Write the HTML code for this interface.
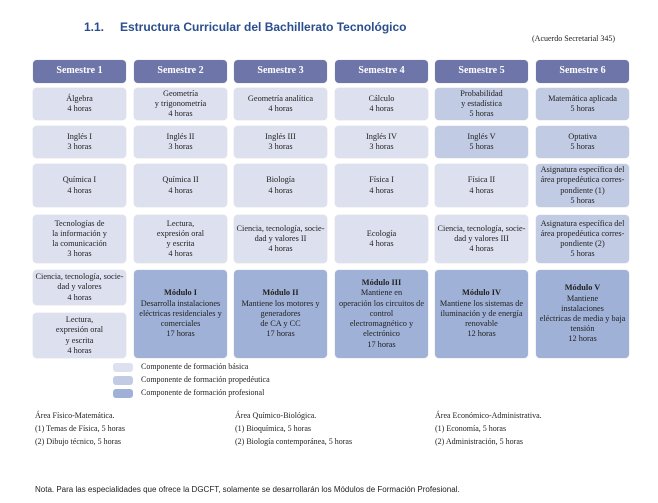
<!DOCTYPE html>
<html><head><meta charset="utf-8"><style>
body{margin:0;width:658px;height:503px;background:#fff;position:relative;overflow:hidden;font-family:"Liberation Serif",serif;color:#222}
.a{position:absolute}
.c{position:absolute;width:93px;border-radius:4px;display:flex;align-items:center;justify-content:center;text-align:center;font-size:8.3px;line-height:10.2px;box-shadow:0 0 1px #bbb}
.h{background:#6e75a8;color:#fff;font-weight:bold;font-size:10px;height:23px;top:60px}
.b{background:#dde1ef}.p{background:#c1cbe3}.f{background:#9fb1d6}
.t{font-size:8px;position:absolute;white-space:nowrap}
.sw{position:absolute;left:113px;width:20px;height:9px;border-radius:3px}
</style></head><body>
<div class="a" style="left:84px;top:20px;font:bold 12px 'Liberation Sans',sans-serif;color:#2a4e8e">1.1.</div>
<div class="a" style="left:120px;top:20px;font:bold 12px 'Liberation Sans',sans-serif;color:#2a4e8e">Estructura Curricular del Bachillerato Tecnológico</div>
<div class="t" style="left:532px;top:34px">(Acuerdo Secretarial 345)</div>

<div class="c h" style="left:33px">Semestre 1</div>
<div class="c h" style="left:134px">Semestre 2</div>
<div class="c h" style="left:234px">Semestre 3</div>
<div class="c h" style="left:335px">Semestre 4</div>
<div class="c h" style="left:435px">Semestre 5</div>
<div class="c h" style="left:536px">Semestre 6</div>

<div class="c b" style="left:33px;top:88px;height:32px">Álgebra<br>4 horas</div>
<div class="c b" style="left:134px;top:88px;height:32px">Geometría<br>y trigonometría<br>4 horas</div>
<div class="c b" style="left:234px;top:88px;height:32px">Geometría analítica<br>4 horas</div>
<div class="c b" style="left:335px;top:88px;height:32px">Cálculo<br>4 horas</div>
<div class="c p" style="left:435px;top:88px;height:32px">Probabilidad<br>y estadística<br>5 horas</div>
<div class="c p" style="left:536px;top:88px;height:32px">Matemática aplicada<br>5 horas</div>

<div class="c b" style="left:33px;top:126px;height:32px">Inglés I<br>3 horas</div>
<div class="c b" style="left:134px;top:126px;height:32px">Inglés II<br>3 horas</div>
<div class="c b" style="left:234px;top:126px;height:32px">Inglés III<br>3 horas</div>
<div class="c b" style="left:335px;top:126px;height:32px">Inglés IV<br>3 horas</div>
<div class="c p" style="left:435px;top:126px;height:32px">Inglés V<br>5 horas</div>
<div class="c p" style="left:536px;top:126px;height:32px">Optativa<br>5 horas</div>

<div class="c b" style="left:33px;top:164px;height:43px">Química I<br>4 horas</div>
<div class="c b" style="left:134px;top:164px;height:43px">Química II<br>4 horas</div>
<div class="c b" style="left:234px;top:164px;height:43px">Biología<br>4 horas</div>
<div class="c b" style="left:335px;top:164px;height:43px">Física I<br>4 horas</div>
<div class="c b" style="left:435px;top:164px;height:43px">Física II<br>4 horas</div>
<div class="c p" style="left:536px;top:164px;height:43px">Asignatura específica del<br>área propedéutica corres-<br>pondiente (1)<br>5 horas</div>

<div class="c b" style="left:33px;top:215px;height:48px">Tecnologías de<br>la información y<br>la comunicación<br>3 horas</div>
<div class="c b" style="left:134px;top:215px;height:48px">Lectura,<br>expresión oral<br>y escrita<br>4 horas</div>
<div class="c b" style="left:234px;top:215px;height:48px">Ciencia, tecnología, socie-<br>dad y valores II<br>4 horas</div>
<div class="c b" style="left:335px;top:215px;height:48px">Ecología<br>4 horas</div>
<div class="c b" style="left:435px;top:215px;height:48px">Ciencia, tecnología, socie-<br>dad y valores III<br>4 horas</div>
<div class="c p" style="left:536px;top:215px;height:48px">Asignatura específica del<br>área propedéutica corres-<br>pondiente (2)<br>5 horas</div>

<div class="c b" style="left:33px;top:270px;height:35px">Ciencia, tecnología, socie-<br>dad y valores<br>4 horas</div>
<div class="c b" style="left:33px;top:313px;height:45px">Lectura,<br>expresión oral<br>y escrita<br>4 horas</div>
<div class="c f" style="left:134px;top:270px;height:88px"><div><b>Módulo I</b><br>Desarrolla instalaciones<br>eléctricas residenciales y<br>comerciales<br>17 horas</div></div>
<div class="c f" style="left:234px;top:270px;height:88px"><div><b>Módulo II</b><br>Mantiene los motores y<br>generadores<br>de CA y CC<br>17 horas</div></div>
<div class="c f" style="left:335px;top:270px;height:88px"><div><b>Módulo III</b><br>Mantiene en<br>operación los circuitos de<br>control<br>electromagnético y<br>electrónico<br>17 horas</div></div>
<div class="c f" style="left:435px;top:270px;height:88px"><div><b>Módulo IV</b><br>Mantiene los sistemas de<br>iluminación y de energía<br>renovable<br>12 horas</div></div>
<div class="c f" style="left:536px;top:270px;height:88px"><div><b>Módulo V</b><br>Mantiene<br>instalaciones<br>eléctricas de media y baja<br>tensión<br>12 horas</div></div>

<div class="sw b" style="top:363px"></div><div class="t" style="left:141px;top:362px">Componente de formación básica</div>
<div class="sw p" style="top:376px"></div><div class="t" style="left:141px;top:375px">Componente de formación propedéutica</div>
<div class="sw f" style="top:389px"></div><div class="t" style="left:141px;top:388px">Componente de formación profesional</div>

<div class="t" style="left:35px;top:411px">Área Físico-Matemática.</div>
<div class="t" style="left:35px;top:424px">(1) Temas de Física, 5 horas</div>
<div class="t" style="left:35px;top:437px">(2) Dibujo técnico, 5 horas</div>
<div class="t" style="left:235px;top:411px">Área Químico-Biológica.</div>
<div class="t" style="left:235px;top:424px">(1) Bioquímica, 5 horas</div>
<div class="t" style="left:235px;top:437px">(2) Biología contemporánea, 5 horas</div>
<div class="t" style="left:435px;top:411px">Área Económico-Administrativa.</div>
<div class="t" style="left:435px;top:424px">(1) Economía, 5 horas</div>
<div class="t" style="left:435px;top:437px">(2) Administración, 5 horas</div>

<div class="a" style="left:35px;top:485px;font:8px 'Liberation Sans',sans-serif;white-space:nowrap">Nota. Para las especialidades que ofrece la DGCFT, solamente se desarrollarán los Módulos de Formación Profesional.</div>
</body></html>
